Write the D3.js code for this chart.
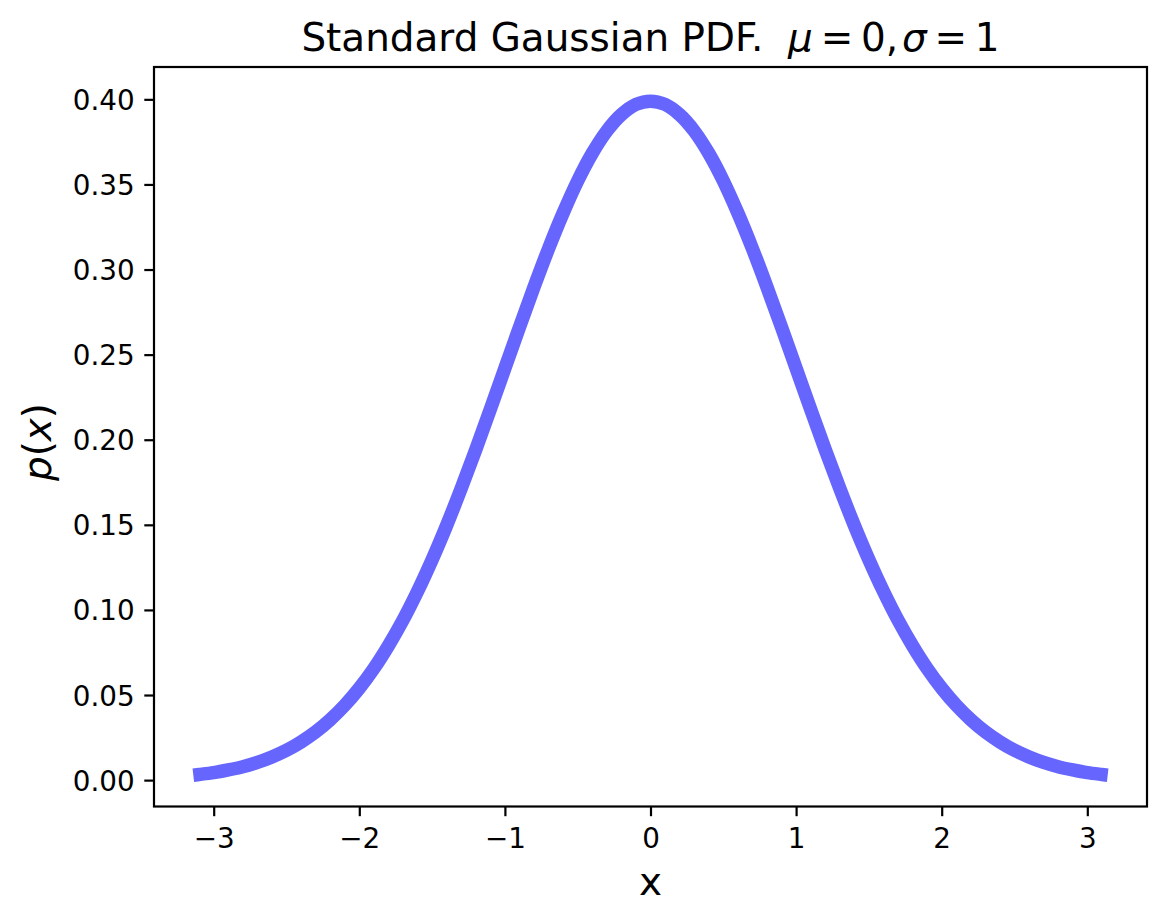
<!DOCTYPE html>
<html><head><meta charset="utf-8">
<script src="https://cdn.jsdelivr.net/npm/d3@7"></script>
<style>html,body{margin:0;padding:0;background:#fff;} text{font-family:"DejaVu Sans",sans-serif;fill:#000;}</style>
</head><body>
<svg id="c" width="1166" height="924"></svg>
<script>
const xValues = [-3.14,-3.1,-3.0,-2.9,-2.8,-2.7,-2.6,-2.5,-2.4,-2.3,-2.2,-2.1,-2.0,-1.9,-1.8,-1.7,-1.6,-1.5,-1.4,-1.3,-1.2,-1.1,
  -1.0,-0.9,-0.8,-0.7,-0.6,-0.5,-0.4,-0.3,-0.2,-0.1,0,
  0.1,0.2,0.3,0.4,0.5,0.6,0.7,0.8,0.9,1.0,
  1.1,1.2,1.3,1.4,1.5,1.6,1.7,1.8,1.9,2.0,2.1,2.2,2.3,2.4,2.5,2.6,2.7,2.8,2.9,3.0,3.1,3.14];
const pValues = [0.0029,0.0033,0.0044,0.0060,0.0079,0.0104,0.0136,0.0175,0.0224,0.0283,0.0355,0.0440,0.0540,0.0656,0.0790,0.0940,0.1109,0.1295,0.1497,0.1714,0.1942,0.2179,
  0.2420,0.2661,0.2897,0.3123,0.3332,0.3521,0.3683,0.3814,0.3910,0.3970,0.3989,
  0.3970,0.3910,0.3814,0.3683,0.3521,0.3332,0.3123,0.2897,0.2661,0.2420,
  0.2179,0.1942,0.1714,0.1497,0.1295,0.1109,0.0940,0.0790,0.0656,0.0540,0.0440,0.0355,0.0283,0.0224,0.0175,0.0136,0.0104,0.0079,0.0060,0.0044,0.0033,0.0029];
const xTicks = [-3,-2,-1,0,1,2,3];
const yTicks = [0.00,0.05,0.10,0.15,0.20,0.25,0.30,0.35,0.40];

const L=154, R=1147, T=67, B=806.5;
const svg = d3.select("#c");
const x = d3.scaleLinear().domain([-3.41,3.41]).range([L,R]);
const y = d3.scaleLinear().domain([-0.0155,0.419]).range([B,T]);
const data = xValues.map((v,i)=>({x:v,y:pValues[i]}));

svg.append("clipPath").attr("id","clip").append("rect").attr("x",L).attr("y",T).attr("width",R-L).attr("height",B-T);
svg.append("path").datum(data).attr("clip-path","url(#clip)")
  .attr("d", d3.line().x(d=>x(d.x)).y(d=>y(d.y)).curve(d3.curveCatmullRom.alpha(0.5)))
  .attr("fill","none").attr("stroke","#6666ff").attr("stroke-width",13.5).attr("stroke-linecap","butt").attr("stroke-linejoin","round");

const fmtX = d=> d<0 ? "\u2212"+Math.abs(d) : String(d);
const xAxis = svg.append("g").attr("transform",`translate(0,${B})`)
  .call(d3.axisBottom(x).tickValues(xTicks).tickFormat(fmtX).tickSize(9.7).tickPadding(9.7));
const yAxis = svg.append("g").attr("transform",`translate(${L},0)`)
  .call(d3.axisLeft(y).tickValues(yTicks).tickFormat(d3.format(".2f")).tickSize(9.7).tickPadding(9.7));
[xAxis,yAxis].forEach(g=>{
  g.select(".domain").remove();
  g.selectAll(".tick line").attr("stroke","#000").attr("stroke-width",2.2);
  g.selectAll(".tick text").attr("font-family","DejaVu Sans").attr("font-size",27.8).attr("fill","#000");
});
xAxis.selectAll(".tick text").attr("dy","0.78em");
yAxis.selectAll(".tick text").attr("dy","0.36em");

svg.append("rect").attr("x",L).attr("y",T).attr("width",R-L).attr("height",B-T)
  .attr("fill","none").attr("stroke","#000").attr("stroke-width",2.2);

// title
const title = svg.append("text").attr("x",(L+R)/2).attr("y",51).attr("text-anchor","middle").attr("font-size",38.9);
title.append("tspan").text("Standard Gaussian PDF.");
title.append("tspan").attr("dx","0.636em").attr("font-style","italic").text("\u03bc");
title.append("tspan").attr("dx","0.2em").text("=");
title.append("tspan").attr("dx","0.2em").text("0,");
title.append("tspan").attr("dx","0.1em").attr("font-style","italic").text("\u03c3");
title.append("tspan").attr("dx","0.2em").text("=");
title.append("tspan").attr("dx","0.2em").text("1");

// x label
svg.append("text").attr("x",(L+R)/2).attr("y",895).attr("text-anchor","middle").attr("font-size",38.9).text("x");
// y label
const yl = svg.append("text").attr("transform","translate(51,442) rotate(-90)").attr("text-anchor","middle").attr("font-size",38.9);
yl.append("tspan").attr("font-style","italic").text("p");
yl.append("tspan").text("(");
yl.append("tspan").attr("font-style","italic").text("x");
yl.append("tspan").text(")");
</script>
</body></html>
